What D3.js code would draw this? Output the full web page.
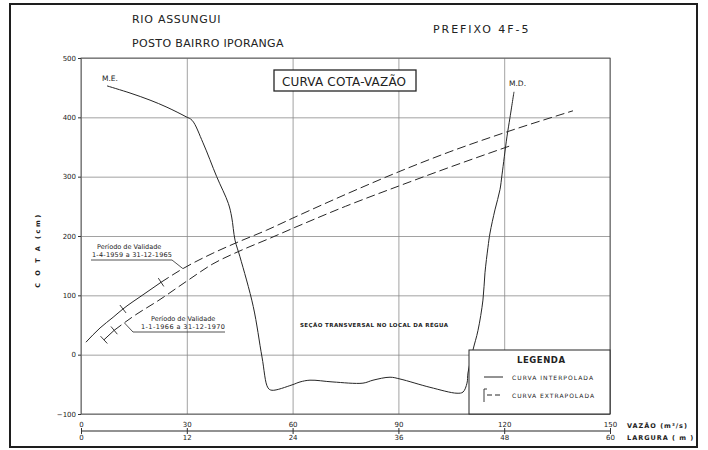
<!DOCTYPE html>
<html>
<head>
<meta charset="utf-8">
<script src="https://cdn.jsdelivr.net/npm/d3@7"></script>
<style>
  body { margin: 0; background: #fff; }
  svg text { font-family: "DejaVu Sans", sans-serif; fill: #222; }
  .gridlines line { stroke: #8a8a8a; stroke-width: 0.8; }
  .gridlines path { display: none; }
  .axis path { display: none; }
  .axis line { stroke: #333; }
  .axis text { font-size: 7px; fill: #222; }
</style>
</head>
<body>
<svg id="chart" width="708" height="450"></svg>
<script>
// ----- data -----
const vazaoTicks = [0, 30, 60, 90, 120, 150];
const larguraTicks = [0, 12, 24, 36, 48, 60];
const cotaTicks = [-100, 0, 100, 200, 300, 400, 500];

// cross-section at the gauge (largura m, cota cm)
const secaoLargura = [2.95, 5.56, 7.83, 9.75, 11.91, 12.6, 13.84, 15.39, 16.71, 17.09, 17.47, 18.03, 19.54, 20.53, 21.21, 21.66,
                      23.93, 24.84, 25.97, 28.58, 31.98, 33.12, 35.05, 36.18, 39.58, 42.65, 43.33, 43.78, 43.89, 44.46, 45.03,
                      45.59, 45.82, 46.16, 46.39, 46.95, 47.52, 47.75, 48.31, 48.66, 49.11];
const secaoCota = [453, 441, 429, 417, 401, 395, 357, 300, 255, 232, 193, 165, 81, -4, -56, -60,
                   -51, -46, -43, -46, -48, -43, -38, -41, -55, -65, -63, -48, -31, 8, 41,
                   92, 138, 181, 205, 244, 278, 303, 367, 400, 443];

// rating curve 1-4-1959 a 31-12-1965
const curva1Vazao = [1.4, 5.4, 9.1, 11.9, 17.6, 22.7, 28.9, 37.4, 44.2, 52.7, 60, 75, 90, 104.6, 120, 139.5];
const curva1Cota = [21, 45, 63, 77, 101, 122, 145, 171, 189, 210, 230, 270, 308, 342, 374, 411];
const curva1Interp = 22.7;          // end of interpolated stretch
const curva1Marcas = [11.9, 22.7];

// rating curve 1-1-1966 a 31-12-1970
const curva2Vazao = [6.5, 9.4, 14.7, 22.4, 30, 37.4, 45.1, 52.7, 60.1, 75, 90, 104.6, 122.2];
const curva2Cota = [25, 41, 64, 93, 124, 153, 175, 194, 213, 250, 284, 316, 353];
const curva2Interp = 9.4;
const curva2Marcas = [6.5, 9.4];


// ----- setup -----
const svg = d3.select("svg#chart");
const plot = {left: 81, right: 610, top: 58, bottom: 414};
const ink = "#262626";

const x = d3.scaleLinear().domain([0, 150]).range([plot.left, plot.right]);
const xL = d3.scaleLinear().domain([0, 60]).range([plot.left, plot.right]);
const y = d3.scaleLinear().domain([-100, 500]).range([plot.bottom, plot.top]);

// outer frame
svg.append("rect")
   .attr("x", 10).attr("y", 4).attr("width", 687).attr("height", 443)
   .attr("fill", "none").attr("stroke", "#1e1e1e").attr("stroke-width", 2);

// titles
const title = svg.append("g").style("font-size", "11px").style("letter-spacing", "1.5px");
title.append("text").attr("x", 132).attr("y", 23).attr("textLength", 90).text("RIO  ASSUNGUI");
title.append("text").attr("x", 132).attr("y", 47).attr("textLength", 153).text("POSTO  BAIRRO  IPORANGA");
title.append("text").attr("x", 433).attr("y", 33).attr("textLength", 97).text("PREFIXO   4F-5");

// gridlines
svg.append("g")
   .attr("class", "gridlines")
   .attr("transform", "translate(0," + plot.bottom + ")")
   .call(d3.axisBottom(x).tickValues(vazaoTicks).tickSize(-(plot.bottom - plot.top)).tickFormat(""));
svg.append("g")
   .attr("class", "gridlines")
   .attr("transform", "translate(" + plot.left + ",0)")
   .call(d3.axisLeft(y).tickValues(cotaTicks).tickSize(-(plot.right - plot.left)).tickFormat(""));

svg.append("rect")
   .attr("x", plot.left).attr("y", plot.top)
   .attr("width", plot.right - plot.left).attr("height", plot.bottom - plot.top)
   .attr("fill", "none").attr("stroke", "#555").attr("stroke-width", 0.9);

// y axis
svg.append("g")
   .attr("class", "axis")
   .attr("transform", "translate(" + plot.left + ",0)")
   .call(d3.axisLeft(y).tickValues(cotaTicks).tickSize(3).tickPadding(2));

svg.append("text")
   .attr("transform", "translate(40,250) rotate(-90)")
   .attr("text-anchor", "middle")
   .style("font-size", "6.5px").style("font-weight", "bold").style("letter-spacing", "2.5px")
   .text("C O T A    (cm)");

// double x axis (vazão above, largura below)
const axisY = 431;
svg.append("line")
   .attr("x1", plot.left).attr("x2", plot.right).attr("y1", axisY).attr("y2", axisY)
   .attr("stroke", ink).attr("stroke-width", 1.2);
svg.append("g")
   .attr("class", "axis")
   .attr("transform", "translate(0," + axisY + ")")
   .call(d3.axisTop(x).tickValues(vazaoTicks).tickSize(3).tickPadding(1.5));
svg.append("g")
   .attr("class", "axis")
   .attr("transform", "translate(0," + axisY + ")")
   .call(d3.axisBottom(xL).tickValues(larguraTicks).tickSize(3).tickPadding(1.5));

const axTitles = svg.append("g").style("font-size", "6.5px").style("font-weight", "bold").style("letter-spacing", "1px");
axTitles.append("text").attr("x", 627).attr("y", 428).text("VAZÃO  (m³/s)");
axTitles.append("text").attr("x", 627).attr("y", 440).text("LARGURA  ( m )");

// cross-section
const secao = secaoLargura.map((d, i) => [xL(d), y(secaoCota[i])]);
svg.append("path")
   .attr("d", d3.line().curve(d3.curveCatmullRom.alpha(0.5))(secao))
   .attr("fill", "none").attr("stroke", ink).attr("stroke-width", 1);

svg.append("text").attr("x", 102).attr("y", 81).style("font-size", "7.5px").text("M.E.");
svg.append("text").attr("x", 509).attr("y", 86).style("font-size", "7.5px").text("M.D.");

// rating curves
const curveLine = d3.line().curve(d3.curveMonotoneX);

function cotaAt(qs, cs, q) {
    const i = Math.min(qs.length - 1, Math.max(1, d3.bisectLeft(qs, q)));
    const t = (q - qs[i - 1]) / (qs[i] - qs[i - 1]);
    return cs[i - 1] + t * (cs[i] - cs[i - 1]);
}

function drawCurve(qs, cs, interp, marcas) {
    const pts = qs.map((q, i) => [x(q), y(cs[i])]);
    const solid = pts.filter((p, i) => qs[i] <= interp);
    const dashed = pts.filter((p, i) => qs[i] >= interp);
    if (solid.length > 1) {
        svg.append("path").attr("d", curveLine(solid))
           .attr("fill", "none").attr("stroke", ink).attr("stroke-width", 1);
    }
    svg.append("path").attr("d", curveLine(dashed))
       .attr("fill", "none").attr("stroke", ink).attr("stroke-width", 1)
       .attr("stroke-dasharray", "9,4");

    // small cross marks where the stretch changes
    marcas.forEach(q => {
        const px = x(q), py = y(cotaAt(qs, cs, q));
        const dx = x(q + 1) - x(q - 1), dy = y(cotaAt(qs, cs, q + 1)) - y(cotaAt(qs, cs, q - 1));
        const len = Math.hypot(dx, dy);
        const nx = -dy / len, ny = dx / len;
        svg.append("line")
           .attr("x1", px - nx * 5).attr("y1", py - ny * 5)
           .attr("x2", px + nx * 5).attr("y2", py + ny * 5)
           .attr("stroke", ink).attr("stroke-width", 0.9);
    });
}
drawCurve(curva1Vazao, curva1Cota, curva1Interp, curva1Marcas);
drawCurve(curva2Vazao, curva2Cota, curva2Interp, curva2Marcas);

// validity notes with leaders
function note(lines, tx, ty, ux1, ux2, uy, q, qs, cs) {
    const g = svg.append("g").style("font-size", "6.5px");
    g.append("text").attr("x", tx).attr("y", ty).text(lines[0]);
    g.append("text").attr("x", ux1 + 1).attr("y", ty + 8).attr("textLength", ux2 - ux1 - 1).text(lines[1]);
    return g;
}
const n1 = note(["Período  de  Validade", "1-4-1959  a  31-12-1965"], 97, 249, 91, 172, 260);
svg.append("polyline")
   .attr("points", [[91, 260], [172, 260], [x(28.9), y(cotaAt(curva1Vazao, curva1Cota, 28.9))]].join(" "))
   .attr("fill", "none").attr("stroke", ink).attr("stroke-width", 0.8);
const n2 = note(["Período  de  Validade", "1-1-1966  a  31-12-1970"], 151, 321, 140, 225, 332);
svg.append("polyline")
   .attr("points", [[225, 332], [133, 332], [x(12.3), y(cotaAt(curva2Vazao, curva2Cota, 12.3))]].join(" "))
   .attr("fill", "none").attr("stroke", ink).attr("stroke-width", 0.8);

// labels inside the plot
const box = svg.append("g");
box.append("rect").attr("x", 274).attr("y", 70).attr("width", 142).attr("height", 21)
   .attr("fill", "#fff").attr("stroke", ink).attr("stroke-width", 1.3);
box.append("text").attr("x", 282).attr("y", 86).attr("textLength", 124)
   .style("font-size", "12px").text("CURVA COTA-VAZÃO");

svg.append("text").attr("x", 300).attr("y", 327).attr("textLength", 148)
   .style("font-size", "5.5px").style("font-weight", "bold")
   .text("SEÇÃO  TRANSVERSAL  NO  LOCAL  DA  RÉGUA");

// legend
const legend = svg.append("g");
legend.append("rect").attr("x", 469).attr("y", 350).attr("width", x(150) - 469).attr("height", y(-100) - 350)
      .attr("fill", "#fff").attr("stroke", ink).attr("stroke-width", 1);
legend.append("text").attr("x", 517).attr("y", 363).attr("textLength", 48)
      .style("font-size", "8.5px").style("font-weight", "bold").text("LEGENDA");
legend.append("line").attr("x1", 484).attr("x2", 503).attr("y1", 377).attr("y2", 377)
      .attr("stroke", ink).attr("stroke-width", 1);
legend.append("text").attr("x", 512).attr("y", 379.5).attr("textLength", 81)
      .style("font-size", "6px").text("CURVA   INTERPOLADA");
legend.append("polyline").attr("points", "487,389 484,389 484,402")
      .attr("fill", "none").attr("stroke", ink).attr("stroke-width", 0.9);
legend.append("line").attr("x1", 487).attr("x2", 503).attr("y1", 395).attr("y2", 395)
      .attr("stroke", ink).attr("stroke-width", 1).attr("stroke-dasharray", "5,3");
legend.append("text").attr("x", 512).attr("y", 397.5).attr("textLength", 82)
      .style("font-size", "6px").text("CURVA   EXTRAPOLADA");
</script>
</body>
</html>
